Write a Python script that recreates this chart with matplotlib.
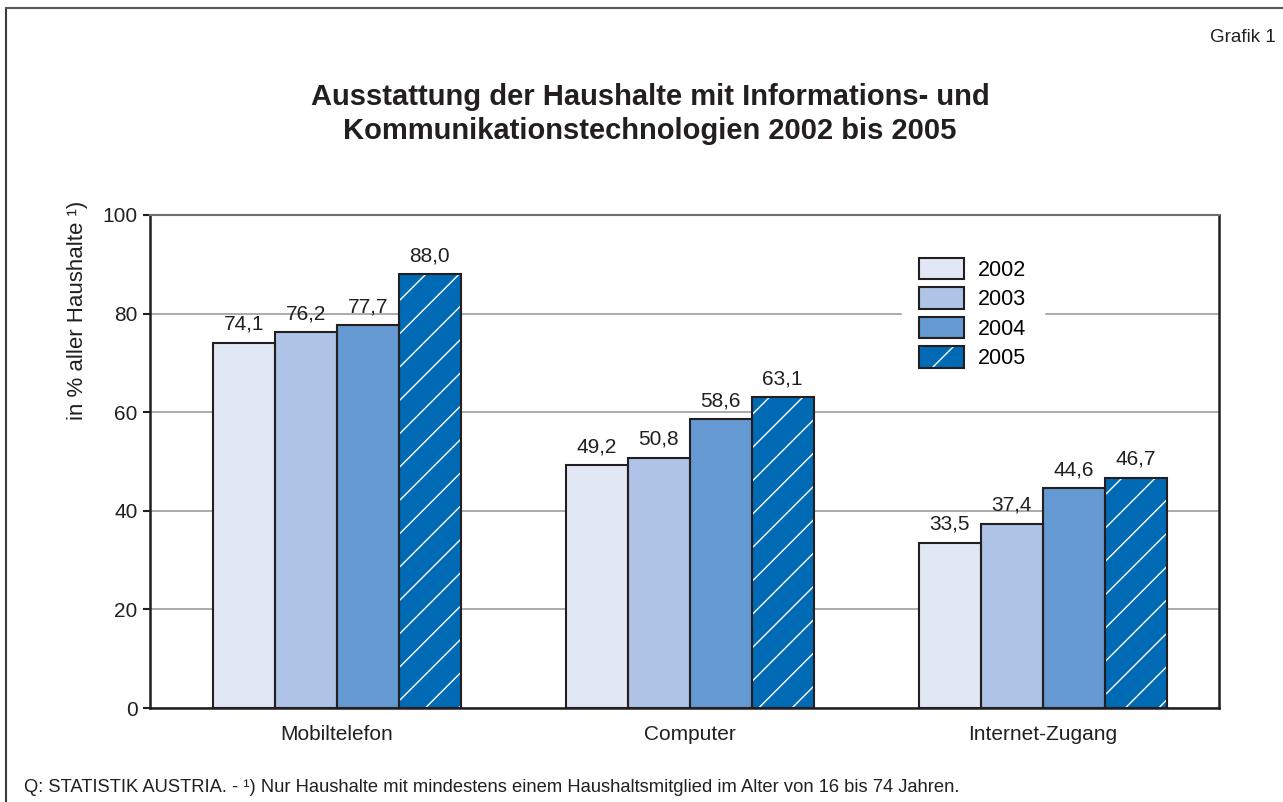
import matplotlib
matplotlib.use("Agg")
import matplotlib.pyplot as plt
import numpy as np
from matplotlib.lines import Line2D
from matplotlib.patches import Patch

plt.rcParams['font.family'] = ['Liberation Sans', 'DejaVu Sans']
plt.rcParams['hatch.color'] = 'white'
plt.rcParams['hatch.linewidth'] = 1.0

categories = ["Mobiltelefon", "Computer", "Internet-Zugang"]
years = ["2002", "2003", "2004", "2005"]
values = {
    "2002": [74.1, 49.2, 33.5],
    "2003": [76.2, 50.8, 37.4],
    "2004": [77.7, 58.6, 44.6],
    "2005": [88.0, 63.1, 46.7],
}
colors = ["#e1e7f4", "#aec3e5", "#6499d1", "#006ab5"]
hatches = [None, None, None, "/"]
yticks = [0, 20, 40, 60, 80, 100]

TXT = "#231f20"
edge = "#231f20"

fig = plt.figure(figsize=(12.83, 8.02), dpi=100)
ax = fig.add_axes([150/1283, 1-708/802, (1219-150)/1283, (708-215)/802])

x = np.arange(len(categories))
w = 62/353
handles = []
for i, yr in enumerate(years):
    pos = x + (i - 1.5) * w
    ax.bar(pos, values[yr], width=w, color=colors[i], edgecolor="white",
           linewidth=0, hatch=hatches[i], zorder=3)
    bars = ax.bar(pos, values[yr], width=w, fill=False, edgecolor=edge,
                  linewidth=1.5, zorder=3.5)
    for b, v in zip(bars, values[yr]):
        ax.text(b.get_x() + b.get_width()/2, v + 1.8, f"{v:.1f}".replace(".", ","),
                ha="center", va="bottom", fontsize=15, color=TXT, zorder=4)
    handles.append((Patch(facecolor=colors[i], edgecolor="white", linewidth=0, hatch=hatches[i]),
                    Patch(facecolor="none", edgecolor=edge, linewidth=1.5)))

ax.set_xlim(-0.53, 2.50)
ax.set_ylim(0, 100)
ax.set_yticks(yticks)
ax.set_yticklabels([str(t) for t in yticks], fontsize=15, color=TXT)
ax.set_xticks(x)
ax.set_xticklabels(categories, fontsize=15, color=TXT)
ax.tick_params(axis='x', length=0, pad=12)
ax.tick_params(axis='y', length=5, width=1.5, color=edge, pad=4)
ax.yaxis.grid(True, color="#9d9d9d", linewidth=1.2, zorder=0)
ax.set_axisbelow(True)
for s in ["left", "right", "bottom"]:
    ax.spines[s].set_color(edge)
    ax.spines[s].set_linewidth(1.8)
ax.spines["top"].set_color("#6d6d6d")
ax.spines["top"].set_linewidth(1.5)

leg = ax.legend(handles, years, loc="upper left",
                bbox_to_anchor=((891-150)/1069, (708-230)/493),
                fontsize=15.5, frameon=True, framealpha=1, edgecolor="white",
                facecolor="white", handlelength=2.1, handleheight=1.15,
                labelspacing=0.3, handletextpad=0.65, borderpad=0.8,
                fancybox=False)
leg.set_zorder(5)

fig.text(650/1283, 1-97/802, "Ausstattung der Haushalte mit Informations- und",
         ha="center", va="center", fontsize=21, fontweight="bold", color=TXT)
fig.text(650/1283, 1-131/802, "Kommunikationstechnologien 2002 bis 2005",
         ha="center", va="center", fontsize=21, fontweight="bold", color=TXT)
fig.text(1276/1283, 1-38/802, "Grafik 1", ha="right", va="center",
         fontsize=13.5, color=TXT)
fig.text(78/1283, 1-310/802, "in % aller Haushalte \u00b9)", rotation=90,
         ha="center", va="center", fontsize=16, color=TXT)
fig.text(24/1283, 1-788/802,
         "Q: STATISTIK AUSTRIA. - \u00b9) Nur Haushalte mit mindestens einem Haushaltsmitglied im Alter von 16 bis 74 Jahren.",
         ha="left", va="center", fontsize=13.2, color=TXT)

# outer frame (top and left)
fig.add_artist(Line2D([6/1283, 6/1283], [0, 1-8/802], transform=fig.transFigure,
                      color="#3a3a3a", linewidth=1.5))
fig.add_artist(Line2D([6/1283, 1], [1-8/802, 1-8/802], transform=fig.transFigure,
                      color="#5a5a5a", linewidth=1.5))

fig.savefig("out.png", dpi=100)
